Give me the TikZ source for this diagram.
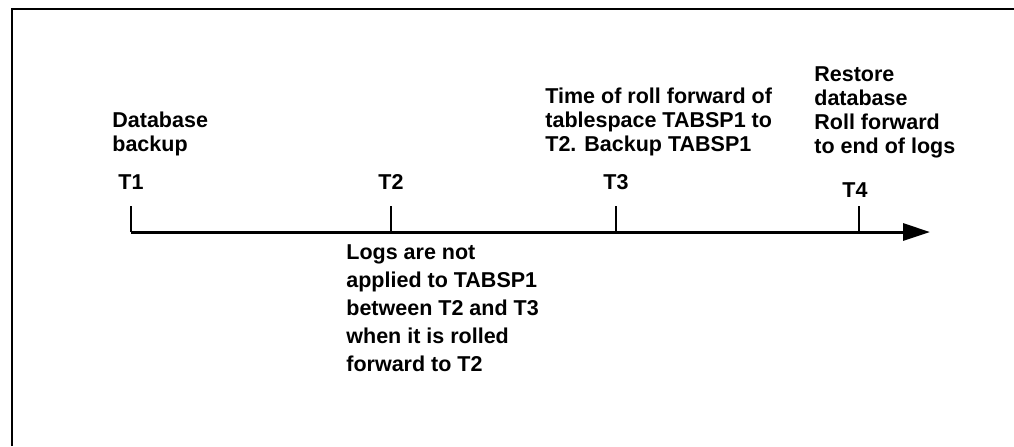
\documentclass[tikz,border=0pt]{standalone}
\usepackage{fontspec}
\setmainfont{Liberation Sans}
\usetikzlibrary{arrows.meta,positioning}

\begin{document}
\begin{tikzpicture}[x=0.5pt, y=-0.5pt, >={Triangle[length=13.5pt, width=8.5pt]},
    font=\fontsize{10.75pt}{12pt}\selectfont\bfseries,
    frame/.style={line width=1pt},
    stem/.style={line width=1pt},
    axisline/.style={line width=1.5pt},
    lbl/.style={inner sep=0pt},
    note/.style={inner sep=0pt, align=left}]
    \useasboundingbox (0,0) rectangle (1014,446);
    % frame (top and left edges only)
    \coordinate (fa) at (12,446);
    \coordinate (fb) at (12,9);
    \coordinate (fc) at (1014,9);
    \draw[frame] (fa) -- (fb) -- (fc);
    % time axis
    \coordinate (a0) at (131,232);
    \coordinate (a1) at (930,232);
    \draw[->, axisline] (a0) -- (a1);
    \coordinate (k1) at (131,206);
    \coordinate (k2) at (391,206);
    \coordinate (k3) at (616,206);
    \coordinate (k4) at (859,206);
    \foreach \k in {1,2,3,4}
        \draw[stem] (k\k) -- (k\k |- a0);
    \node[lbl, above=8pt of k1] (t1) {T1};
    \node[lbl, above=8pt of k2] (t2) {T2};
    \node[lbl, above=8pt of k3] (t3) {T3};
    \node[lbl, above=4pt of k4, xshift=-2pt] (t4) {T4};
    % event texts
    \node[note, anchor=south west] (dbb) at (112,156) {Database\\backup};
    \node[note, anchor=south west] (rfw) at (545,156)
        {Time of roll forward of\\tablespace TABSP1 to\\T2. Backup TABSP1};
    \node[note, anchor=south west] (rst) at (814,158)
        {Restore\\database\\Roll forward\\to end of logs};
    \node[note, anchor=north west, font=\fontsize{10.75pt}{14pt}\selectfont\bfseries] (nla) at (346,244)
        {Logs are not\\applied to TABSP1\\between T2 and T3\\when it is rolled\\forward to T2};
\end{tikzpicture}
\end{document}
